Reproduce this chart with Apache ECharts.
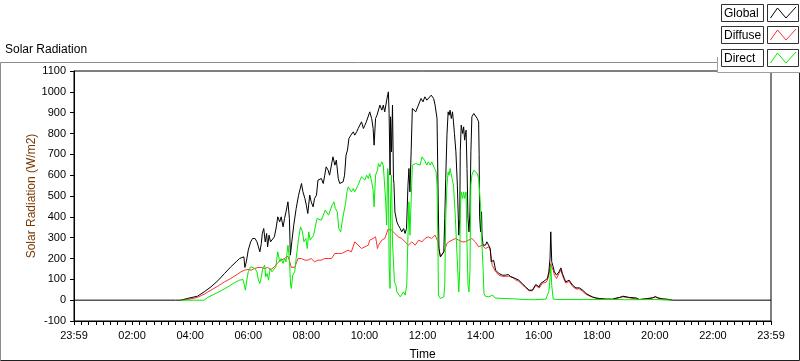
<!DOCTYPE html>
<html>
<head>
<meta charset="utf-8">
<script src="https://cdn.jsdelivr.net/npm/echarts@6/dist/echarts.min.js"></script>
<style>
html,body{margin:0;padding:0;background:#fff;}
#chart{width:800px;height:361px;}
</style>
</head>
<body>
<div id="chart"></div>
<script>
// ---- data (time in minutes after 00:00, values in W/m2) ----
var xTickLabels = ['23:59','02:00','04:00','06:00','08:00','10:00','12:00','14:00','16:00','18:00','20:00','22:00','23:59'];
var seriesNames = ['Global','Diffuse','Direct'];

var globalTime = [0,210,221,234,255,269,283,297,311,324,335,342,345,351,353,356,360,365,369,374,378,381,384,387,389,392,395,398,400,403,406,410,414,418,421,425,428,432,435,438,442,445,447,450,454,459,464,470,473,477,480,483,487,490,494,497,501,504,511,515,518,521,525,528,532,535,539,542,546,549,553,556,559,562,565,568,572,577,580,584,587,591,594,598,601,604,608,611,615,618,620,623,626,629,632,636,639,642,646,648,649.5,651,653,654,656,658,660,661,663,667,670,674,677,681,684,687,690,692,694,696.5,699,703,706,710,713,717,721,725,729,732,738,743,746,750,752,754,757,760,764,766,768,770.5,773,775,777,779.5,782,784,786,789,792,795,797,798,800,803,805,807,810,812,814,816,818,820,822,826,829,833,836,837,838,840,842,843,845,850,853,857,860,862,865,867,871,874,878,885,891,898,902,905,909,912,919,926,933,940,947,950,954,957,961,964,968,971,975,978,981,983.5,985,987,990,992.5,997,999,1002,1006,1009,1013,1016,1020,1023,1026,1030,1033,1037,1044,1051,1058,1064,1071,1078,1085,1099,1113,1120,1127,1134,1137,1148,1161,1168,1182,1189,1196,1201,1206,1213,1224,1230,1237,1440];
var globalValue = [0,0,0,8,19,40,64,93,128,160,184,200,192,208,157,184,240,280,296,296,280,256,232,272,320,344,280,320,256,312,280,288,304,352,400,376,400,352,392,424,472,392,216,280,360,440,504,560,520,488,456,416,504,472,448,488,504,576,584,560,600,640,624,600,608,688,648,672,584,560,568,568,600,696,720,776,792,808,792,808,824,832,856,824,840,856,864,904,872,824,744,872,888,896,936,912,936,904,960,984,1000,896,600,880,712,936,584,560,424,376,360,344,328,344,320,344,552,632,520,712,920,912,904,928,936,968,952,976,960,968,984,968,936,872,552,248,208,200,232,392,584,792,904,888,912,872,904,856,800,712,552,312,392,712,840,800,832,768,816,632,392,328,424,712,880,896,888,872,856,700,400,328,424,312,264,264,280,272,248,184,176,192,144,136,128,120,120,123,112,120,107,104,96,80,64,48,48,56,75,72,64,80,88,91,88,104,136,200,328,184,160,136,120,112,136,155,128,104,88,85,96,88,72,64,59,59,48,32,24,16,11,8,5,5,10,13,19,16,13,11,3,6,8,11,18,11,6,5,3,0,0];

var diffuseTime = [220,234,255,269,283,297,311,324,338,345,352,359,366,373,380,387,394,400,407,414,421,428,435,442,445,449,456,463,470,477,483,490,497,504,511,518,525,532,539,546,553,560,566,573,580,587,594,601,608,611,618,623,627,629,636,642,649,656,663,670,677,684,691,698,705,712,719,725,732,739,746,752,755,757,760,764,767,770,774,781,788,795,802,808,815,822,829,836,843,850,857,860,864,871,878,885,891,898,905,912,919,926,933,940,947,954,961,968,975,978,981,985,987,990,992.5,997,1002,1006,1009,1013,1016,1023,1030,1037,1044,1051,1058,1064,1071,1085,1113,1134,1148,1168,1201,1224,1236];
var diffuseValue = [0,3,13,29,48,67,88,104,125,136,144,147,144,152,157,157,152,157,147,160,180,192,200,211,190,157,158,200,200,192,192,200,184,192,192,200,200,200,224,224,224,232,240,232,280,264,248,256,264,288,296,304,248,264,288,296,341,336,320,304,296,280,264,280,264,288,280,296,304,296,312,280,232,208,216,232,248,270,280,288,296,288,280,280,288,296,280,256,264,248,256,240,168,136,120,114,114,115,112,98,90,75,60,45,45,70,58,82,85,96,120,176,160,144,120,104,128,145,120,96,82,90,66,54,54,42,28,21,14,6,4,16,11,3,14,3,0];

var directTime = [220,269,276,290,304,318,331,342,349,352,354,357,360,365,369,374,378,381,384,387,390,394,396,399,402,405,409,413,417,421,425,428,432,435,438,442,445,447.5,449,452,456,459,464,468,472,475,479,482,485,488,492,495,499,502,506,511,515,519,523,526,530,533,537,540,544,547,551,554,557,561,564,566.5,570,573,577,580,584,587,591,594,598,601,604.5,608,611,615,618,620,623,627,629,632,636,639,642.5,644,646,648,649.5,651,653,654,656,658,660,662,665,667,670,674,677,681,684,687.5,690,692,694,696.5,699,703,706,710,715,719,724,729,732,736,739,745,748,750,752,753,757,760,764,766,768,770.5,773,775,777,781,784,788,791,795,797,798,800,803,805,807,810,812,814,816,818,820,822,826,829,833,836,840,843,845,847,850,857,865,870,890,910,930,950,975,978,981,984,985,987,990,1000,1050,1130,1134,1138,1200,1236];
var directValue = [0,0,13,29,45,64,83,96,99,72,48,96,136,160,152,152,136,96,80,112,152,168,112,128,96,152,136,144,160,232,184,200,176,200,184,264,200,72,56,120,136,200,296,352,328,280,296,248,328,288,280,312,320,392,392,384,392,432,440,408,416,456,472,440,424,344,328,376,416,464,520,544,536,520,536,520,520,552,576,592,600,576,600,584,608,568,528,448,600,624,656,640,664,648,640,472,360,632,600,168,56,472,600,280,184,88,72,40,32,16,24,40,24,72,312,472,312,472,648,648,656,664,648,688,672,648,664,648,664,632,616,552,232,24,8,8,16,72,392,552,616,600,632,584,552,392,232,40,150,424,520,488,520,488,520,264,72,40,136,552,600,624,616,608,584,448,256,160,32,19,16,24,10,8,6,3,2,5,24,40,120,165,72,5,3,3,3,8,2,3,0];

// ---- build ----
function pairs(t, v){ var out=[]; for(var i=0;i<t.length;i++){ out.push([t[i], v[i]]); } return out; }
var FONT = 'Liberation Sans';
var chart = echarts.init(document.getElementById('chart'), null, {renderer:'canvas'});

function legendItem(label, color, y){
  var zig = [[770.5, y+14], [777.5, y+4], [786, y+14], [796, y+3]];
  return [
    {type:'rect', shape:{x:721.5, y:y+0.5, width:42, height:17}, style:{fill:'#fff', stroke:'#303030', lineWidth:1}, z:100},
    {type:'text', x:724, y:y+9.5, style:{text:label, fill:'#000', font:'12px "'+FONT+'"', textVerticalAlign:'middle', verticalAlign:'middle'}, z:101},
    {type:'rect', shape:{x:767.5, y:y+0.5, width:31, height:17}, style:{fill:'#fff', stroke:'#303030', lineWidth:1}, z:100},
    {type:'polyline', shape:{points:zig}, style:{stroke:color, fill:null, lineWidth:1}, z:101}
  ];
}

var graphics = [
  // outer panel frame
  {type:'polyline', shape:{points:[[0.5,360.5],[0.5,62.5],[717,62.5]]}, style:{stroke:'#8c8c8c', fill:null, lineWidth:1}, z:50},
  {type:'polyline', shape:{points:[[0.5,360.5],[799.5,360.5],[799.5,72]]}, style:{stroke:'#202020', fill:null, lineWidth:1}, z:50},
  // legend panel
  {type:'rect', shape:{x:717, y:0, width:83, height:72}, style:{fill:'#fff', stroke:null}, z:60},
  {type:'polyline', shape:{points:[[717.5,57],[717.5,72.5],[800,72.5]]}, style:{stroke:'#a0a0a0', fill:null, lineWidth:1}, z:61},
  // title
  {type:'text', x:5, y:50, style:{text:'Solar Radiation', fill:'#000', font:'12px "'+FONT+'"', textVerticalAlign:'middle', verticalAlign:'middle'}, z:50}
];
graphics = graphics.concat(legendItem(seriesNames[0], '#000000', 4));
graphics = graphics.concat(legendItem(seriesNames[1], '#ff3030', 26));
graphics = graphics.concat(legendItem(seriesNames[2], '#00ee00', 49));

var option = {
  animation:false,
  backgroundColor:'#fff',
  textStyle:{fontFamily:FONT},
  grid:{left:74, right:29, top:71, bottom:40, show:true, borderColor:'#000', borderWidth:1, backgroundColor:'#fff', containLabel:false, outerBoundsMode:'none'},
  xAxis:{
    type:'value', min:0, max:1440, interval:120,
    name:'Time', nameLocation:'middle', nameGap:28, nameMoveOverlap:false,
    nameTextStyle:{color:'#000', fontSize:12, fontFamily:FONT},
    axisLine:{show:true, onZero:false, lineStyle:{color:'#000', width:1}},
    axisTick:{show:true, length:4, lineStyle:{color:'#000'}},
    minorTick:{show:true, splitNumber:8, length:4, lineStyle:{color:'#000'}},
    splitLine:{show:false},
    axisLabel:{color:'#000', fontSize:11, fontFamily:FONT, margin:9, showMinLabel:true, showMaxLabel:true,
      formatter:function(v){ return xTickLabels[Math.round(v/120)] || ''; }}
  },
  yAxis:{
    type:'value', min:-100, max:1100, interval:100,
    name:'Solar Radiation (W/m2)', nameLocation:'middle', nameGap:36, nameMoveOverlap:false,
    nameTextStyle:{color:'#7a3800', fontSize:12, fontFamily:FONT},
    axisLine:{show:true, onZero:false, lineStyle:{color:'#000', width:1}},
    axisTick:{show:true, length:4, lineStyle:{color:'#000'}},
    splitLine:{show:false},
    axisLabel:{color:'#000', fontSize:11, fontFamily:FONT, margin:8, showMinLabel:true, showMaxLabel:true,
      formatter:function(v){ return String(v); }}
  },
  series:[
    {name:seriesNames[1], type:'line', data:pairs(diffuseTime, diffuseValue), showSymbol:false, symbol:'none', lineStyle:{color:'#ff3030', width:1}, itemStyle:{color:'#ff3030'}, z:2},
    {name:seriesNames[0], type:'line', data:pairs(globalTime, globalValue), showSymbol:false, symbol:'none', lineStyle:{color:'#000000', width:1}, itemStyle:{color:'#000'}, z:3},
    {name:seriesNames[2], type:'line', data:pairs(directTime, directValue), showSymbol:false, symbol:'none', lineStyle:{color:'#00ee00', width:1}, itemStyle:{color:'#00ee00'}, z:4}
  ],
  graphic:{elements:graphics}
};
chart.setOption(option);
</script>
</body>
</html>
